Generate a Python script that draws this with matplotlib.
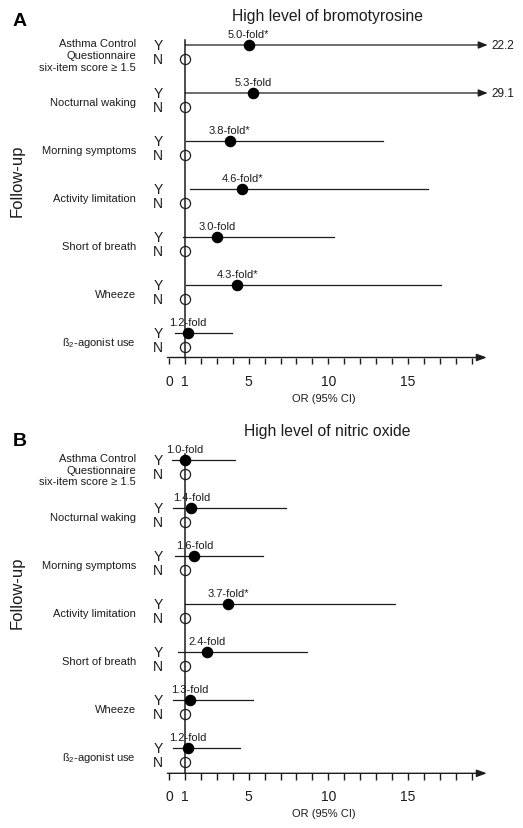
import matplotlib
matplotlib.use("Agg")
import matplotlib.pyplot as plt

plt.rcParams['font.family'] = ['Liberation Sans', 'DejaVu Sans']
plt.rcParams['mathtext.fontset'] = 'custom'
plt.rcParams['mathtext.rm'] = 'Liberation Sans'
plt.rcParams['mathtext.it'] = 'Liberation Sans:italic'
plt.rcParams['mathtext.bf'] = 'Liberation Sans:bold'

# ---------------- data ----------------
categories = ["Asthma Control\nQuestionnaire\nsix-item score \u2265 1.5",
              "Nocturnal waking", "Morning symptoms", "Activity limitation",
              "Short of breath", "Wheeze", "\u00df$_2$-agonist use"]

bromo_or = [5.0, 5.3, 3.8, 4.6, 3.0, 4.3, 1.2]
bromo_lo = [1.02, 1.0, 1.07, 1.32, 0.9, 1.07, 0.38]
bromo_hi = [22.2, 29.1, 13.45, 16.25, 10.33, 17.07, 3.95]
bromo_sig = [True, False, True, True, False, True, False]

no_or = [1.0, 1.4, 1.6, 3.7, 2.4, 1.3, 1.2]
no_lo = [0.19, 0.27, 0.38, 1.0, 0.59, 0.27, 0.27]
no_hi = [4.16, 7.34, 5.88, 14.18, 8.64, 5.29, 4.46]
no_sig = [False, False, False, True, False, False, False]

reference_or = 1.0
tick_values = list(range(0, 20))
tick_labels = {0: "0", 1: "1", 5: "5", 10: "10", 15: "15"}
axis_max = 20

panel_titles = ["High level of bromotyrosine", "High level of nitric oxide"]
panel_letters = ["A", "B"]

# ---------------- layout ----------------
W, H = 523, 829
PX0 = 169.0      # pixel x of OR = 0
PXU = 15.93      # pixels per OR unit
ROW = 48.0       # pixels per row
YN = 14.4 / ROW  # Y -> N offset in rows
INK = '#1c1c1c'

fig = plt.figure(figsize=(W / 100, H / 100), dpi=100)

def px2x(px):
    return (px - PX0) / PXU

panels = [
    dict(top=0, bot=414, y0=46.0, axis_px=358.5,
         title_px=16.0, letter_px=22.0, follow_px=181.0,
         orv=bromo_or, lo=bromo_lo, hi=bromo_hi, sig=bromo_sig),
    dict(top=414, bot=829, y0=460.7, axis_px=774.3,
         title_px=431.7, letter_px=441.7, follow_px=593.0,
         orv=no_or, lo=no_lo, hi=no_hi, sig=no_sig),
]

for k, p in enumerate(panels):
    ax = fig.add_axes([0, 1 - p['bot'] / H, 1, (p['bot'] - p['top']) / H])
    y0 = p['y0']
    def py2r(py, y0=y0):
        return (py - y0) / ROW
    ax.set_xlim(px2x(0), px2x(W))
    ax.set_ylim(py2r(p['bot']), py2r(p['top']))
    ax.axis('off')

    axis_r = py2r(p['axis_px'])

    # reference line at OR = 1
    ax.plot([reference_or, reference_or], [-0.11, axis_r], color=INK, lw=1.1, zorder=2)

    for i, cat in enumerate(categories):
        o, lo, hi, s = p['orv'][i], p['lo'][i], p['hi'][i], p['sig'][i]
        # CI line
        if hi > axis_max:
            ax.annotate('', xy=(axis_max, i), xytext=(lo, i),
                        arrowprops=dict(arrowstyle='-|>,head_length=0.55,head_width=0.22',
                                        color=INK, lw=0.9, shrinkA=0, shrinkB=0))
            ax.text(axis_max + 0.25, i, f"{hi:.1f}", ha='left', va='center',
                    fontsize=8.5, color=INK)
        else:
            ax.plot([lo, hi], [i, i], color=INK, lw=0.9, zorder=2)
        # point estimate (Y) and reference (N)
        ax.plot([o], [i], 'o', ms=7.3, color='black', zorder=4)
        ax.plot([reference_or], [i + YN], 'o', ms=7.3, mfc='white', mec=INK,
                mew=0.9, zorder=1)
        # fold label
        ax.text(o, i - 11 / ROW, f"{o:.1f}-fold" + ("*" if s else ""),
                ha='center', va='center', fontsize=8, color=INK, zorder=5)
        # Y / N
        ax.text(px2x(158), i, "Y", ha='center', va='center', fontsize=10, color=INK)
        ax.text(px2x(158), i + YN, "N", ha='center', va='center', fontsize=10, color=INK)
        # category label
        if i == 0:
            ax.text(px2x(136), i + 10 / ROW, cat, ha='right', va='center',
                    multialignment='right', fontsize=8, color=INK, linespacing=1.2)
        else:
            ax.text(px2x(136), i + 9 / ROW, cat, ha='right', va='center',
                    fontsize=8, color=INK)

    # x axis with arrow
    ax.annotate('', xy=(axis_max - 0.05, axis_r), xytext=(-0.1, axis_r),
                arrowprops=dict(arrowstyle='-|>,head_length=0.6,head_width=0.22',
                                color=INK, lw=1.0, shrinkA=0, shrinkB=0))
    ax.vlines(tick_values, axis_r, axis_r + 6.5 / ROW, color=INK, lw=1.0)
    for t, lab in tick_labels.items():
        ax.text(t, axis_r + 23 / ROW, lab, ha='center', va='center', fontsize=10, color=INK)
    ax.text(9.7, axis_r + 40 / ROW, "OR (95% CI)", ha='center', va='center',
            fontsize=8, color=INK)

    # titles and labels
    ax.text(px2x(327.5), py2r(p['title_px']), panel_titles[k], ha='center', va='center',
            fontsize=11.3, color=INK)
    ax.text(px2x(20), py2r(p['letter_px']), panel_letters[k], ha='center', va='center',
            fontsize=14, fontweight='bold', color='black')
    ax.text(px2x(17), py2r(p['follow_px']), "Follow-up", ha='center', va='center',
            rotation=90, fontsize=12, color=INK)

fig.savefig("out.png", dpi=100)
